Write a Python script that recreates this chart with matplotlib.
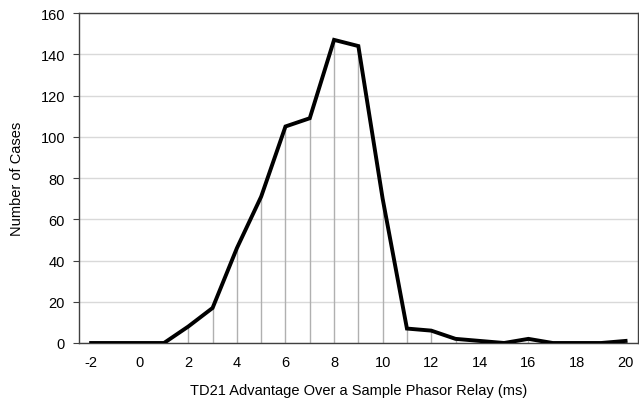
import matplotlib
matplotlib.use('Agg')
import matplotlib.pyplot as plt

# data
advantage_ms = [-2, -1, 0, 1, 2, 3, 4, 5, 6, 7, 8, 9, 10, 11, 12, 13, 14, 15, 16, 17, 18, 19, 20]
cases = [0, 0, 0, 0, 8, 17, 46, 71, 105, 109, 147, 144, 70, 7, 6, 2, 1, 0, 2, 0, 0, 0, 1]
x_ticks = [-2, 0, 2, 4, 6, 8, 10, 12, 14, 16, 18, 20]
y_ticks = [0, 20, 40, 60, 80, 100, 120, 140, 160]

plt.rcParams['font.family'] = ['Liberation Sans', 'DejaVu Sans']
plt.rcParams['font.size'] = 10.5
plt.rcParams['axes.unicode_minus'] = False

fig = plt.figure(figsize=(6.39, 4.02), dpi=100)
ax = fig.add_axes([0.1236, 0.1443, 0.8744, 0.8207])

# vertical drop lines from each point to zero
ax.vlines(advantage_ms, 0, cases, colors='#b0b0b0', linewidth=1.0, zorder=2)
ax.plot(advantage_ms, cases, color='black', linewidth=2.8, solid_joinstyle='miter', zorder=3)

ax.set_xlim(-2.5, 20.5)
ax.set_ylim(0, 160)
ax.set_xticks(x_ticks)
ax.set_yticks(y_ticks)
ax.yaxis.grid(True, color='#d9d9d9', linewidth=1.0)
ax.set_axisbelow(True)

for side in ['left', 'bottom', 'top', 'right']:
    ax.spines[side].set_color('#404040')
    ax.spines[side].set_linewidth(1.0)

ax.tick_params(axis='y', direction='out', length=4, color='#404040', pad=6)
ax.tick_params(axis='x', length=0, pad=9)

ax.set_xlabel('TD21 Advantage Over a Sample Phasor Relay (ms)', labelpad=10)
ax.set_ylabel('Number of Cases', labelpad=12)

fig.savefig('out.png', dpi=100)
